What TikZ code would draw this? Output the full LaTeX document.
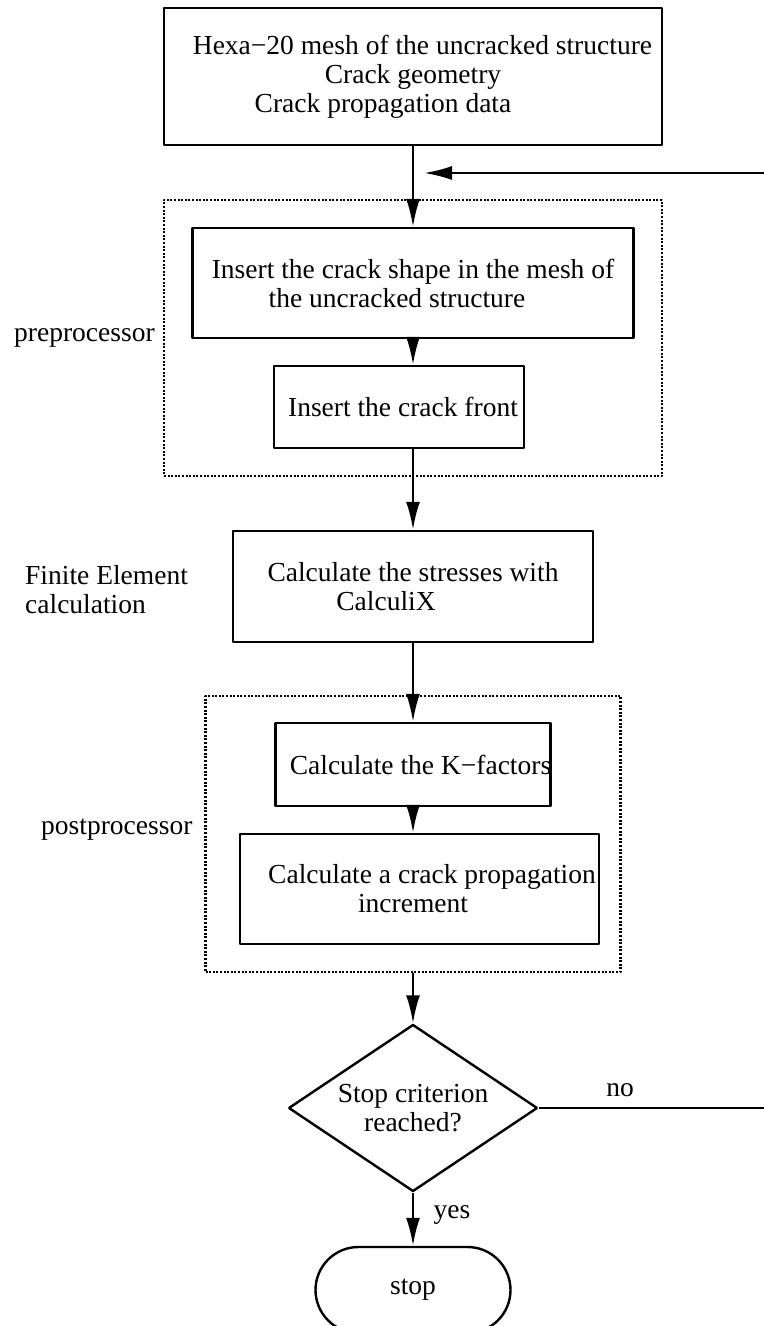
\documentclass[tikz,border=0pt]{standalone}
\usepackage{fontspec}
\setmainfont{Liberation Serif}
\usetikzlibrary{arrows.meta,shapes.geometric}

\begin{document}
\begin{tikzpicture}[>={Latex[length=28bp,width=14bp]},line join=bevel,
  every node/.style={font=\fontsize{27.5bp}{29bp}\selectfont,inner sep=0pt},
  stepbox/.style={draw,rectangle,align=center},
  groupbox/.style={draw,rectangle,dash pattern=on 2bp off 1.6bp,line width=2.6bp},
  sidelabel/.style={align=left},
]
  \pgfsetlinewidth{2.4bp}
  \useasboundingbox (0bp,0bp) rectangle (764bp,1326bp);
%%
  % Node: pre (group)
  \node[groupbox,minimum width=498bp,minimum height=276bp] (pre) at (413bp,988bp) {};
  \node[sidelabel,anchor=base west] (prelabel) at (13bp,984bp) {preprocessor};
  % Node: post (group)
  \node[groupbox,minimum width=415bp,minimum height=276bp] (post) at (413bp,492bp) {};
  \node[sidelabel,anchor=base west] (postlabel) at (40bp,491bp) {postprocessor};
  % Node: top
  \node[stepbox,minimum width=498bp,minimum height=137bp] (top) at (413bp,1249.5bp)
    {Hexa−20 mesh of the uncracked structure\hspace*{-19bp}\\
     Crack geometry\hspace*{60bp}\\
     Crack propagation data\hspace*{60bp}};
  % Node: ins1
  \node[stepbox,minimum width=441bp,minimum height=110bp] (ins1) at (413bp,1043bp)
    {Insert the crack shape in the mesh of\\
     the uncracked structure\hspace*{32bp}};
  % Node: ins2
  \node[stepbox,minimum width=250bp,minimum height=82bp] (ins2) at (399bp,919bp)
    {Insert the crack front\hspace*{-8bp}};
  % Node: fe
  \node[stepbox,minimum width=360bp,minimum height=111bp] (fe) at (413bp,739.5bp)
    {Calculate the stresses with\\ CalculiX\hspace*{54bp}};
  \node[sidelabel,anchor=west] (felabel) at (24bp,736.5bp) {Finite Element\\calculation};
  % Node: kf
  \node[stepbox,minimum width=275bp,minimum height=83bp] (kf) at (413bp,561.5bp)
    {Calculate the K−factors\hspace*{-15bp}};
  % Node: crp
  \node[stepbox,minimum width=359bp,minimum height=110bp] (crp) at (419.5bp,437bp)
    {Calculate a crack propagation\hspace*{-25bp}\\ increment\hspace*{13bp}};
  % Node: crit
  \node[draw,diamond,aspect=1.49,minimum width=249bp,minimum height=167bp,align=center]
    (crit) at (413bp,218bp) {Stop criterion\\ reached?};
  % Node: stop
  \node[stepbox,rounded corners=43bp,minimum width=195bp,minimum height=86bp]
    (stop) at (413bp,36bp) {stop};
  \node (yes) at (452bp,111bp) {yes};
  \node (no) at (620bp,236bp) {no};
  \coordinate (back) at (424bp,1153bp);
%%
  % Edge: top -> ins1
  \draw [->] (top.south) -- (top.south |- ins1.north);
  % Edge: ins1 -> ins2
  \draw [->] (ins1.south) -- (ins1.south |- ins2.north);
  % Edge: ins2 -> fe
  \draw [->] (fe.north |- ins2.south) -- (fe.north);
  % Edge: fe -> kf
  \draw [->] (fe.south) -- (kf.north);
  % Edge: kf -> crp
  \draw [->] (kf.south) -- (kf.south |- crp.north);
  % Edge: post -> crit
  \draw [->] (post.south) -- (crit.north);
  % Edge: crit -> stop
  \draw [->] (crit.south) -- (stop.north);
  % Edge: crit -> back
  \draw [->] (crit.east) -- ++(360bp,0bp) |- (back);
%
\end{tikzpicture}
\end{document}
